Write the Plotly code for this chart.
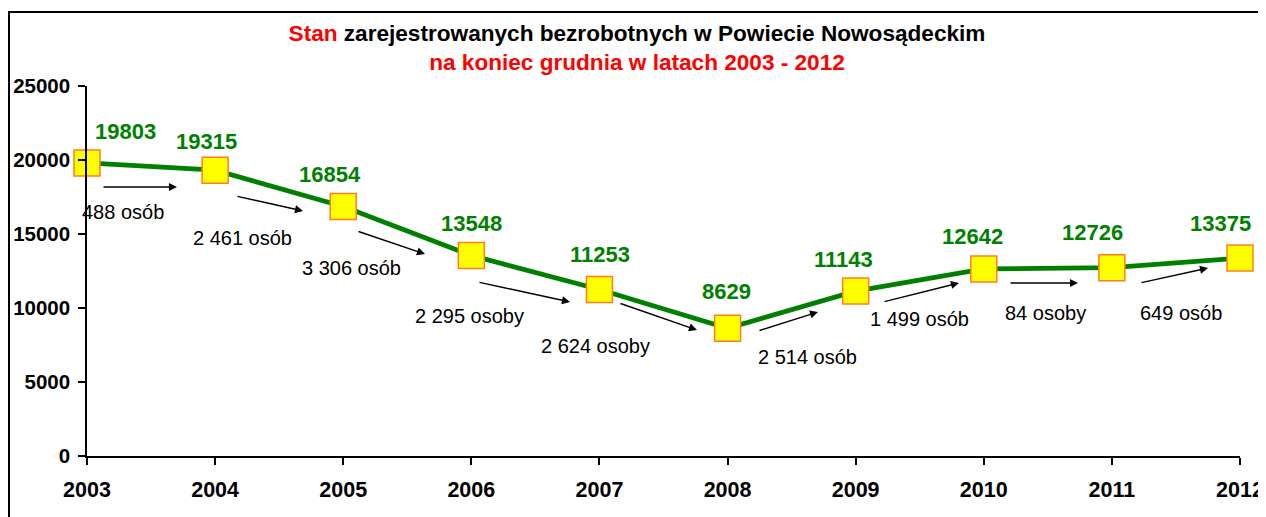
import plotly.graph_objects as go

years = [2003, 2004, 2005, 2006, 2007, 2008, 2009, 2010, 2011, 2012]
unemployed = [19803, 19315, 16854, 13548, 11253, 8629, 11143, 12642, 12726, 13375]
change_labels = ["488 osób", "2 461 osób", "3 306 osób", "2 295 osoby", "2 624 osoby",
                 "2 514 osób", "1 499 osób", "84 osoby", "649 osób"]
y_ticks = [0, 5000, 10000, 15000, 20000, 25000]

# page body has an 8px margin: figure is drawn from (8, 8) of the window
OFF = 8
W, H = 1266 - OFF, 517 - OFF
X0, X1, Y0, Y1 = 87, 1240, 86, 456          # plot area in window pixels
ML, MT = X0 - OFF, Y0 - OFF
PW, PH = X1 - X0, Y1 - Y0
MR, MB = W - ML - PW, H - MT - PH
YMAX = 25000


def px2x(px):
    return years[0] + (px - X0) / PW * (years[-1] - years[0])


def py2y(py):
    return (Y1 - py) / PH * YMAX


fig = go.Figure()
fig.add_trace(go.Scatter(
    x=years, y=unemployed, mode="lines+markers",
    line=dict(color="#008000", width=4.8),
    marker=dict(symbol="square", size=26, color="#FFFF00",
                line=dict(color="#FF7F1F", width=1.5)),
    cliponaxis=False, showlegend=False, hoverinfo="x+y",
))

# value label offsets (pixels) relative to each point
label_dx = [38, -9, -13, 0, 1, -1, -12, -11, -19, -20]
label_dy = [31, 29, 32, 32, 35, 37, 32, 32, 35, 35]
annotations = []
for yr, v, dx, dy in zip(years, unemployed, label_dx, label_dy):
    annotations.append(dict(
        x=yr, y=v, xref="x", yref="y", text=f"<b>{v}</b>", showarrow=False,
        xshift=dx, yshift=dy, font=dict(family="Liberation Sans, Arial", size=22, color="#008000"),
    ))

# arrows (tail px, head px) and change labels (center px), window pixels
arrows_px = [((102, 187), (177, 187)), ((236, 196), (303, 211)), ((357, 231), (425, 254)),
             ((478, 282), (570, 302)), ((619, 303), (697, 330)), ((758, 331), (818, 312)),
             ((883, 302), (959, 283)), ((1009, 283), (1078, 283)), ((1140, 283), (1208, 268))]
label_px = [(123, 212), (242, 238), (351, 268), (469, 316), (595, 346),
            (807, 357), (919, 319), (1045, 313), (1181, 313)]
for (t, h), txt, (lx, ly) in zip(arrows_px, change_labels, label_px):
    annotations.append(dict(
        x=px2x(h[0]), y=py2y(h[1]), ax=px2x(t[0]), ay=py2y(t[1]),
        xref="x", yref="y", axref="x", ayref="y", text="", showarrow=True,
        arrowhead=2, arrowsize=1.15, arrowwidth=1.4, arrowcolor="black",
    ))
    annotations.append(dict(
        x=px2x(lx), y=py2y(ly), xref="x", yref="y", text=txt, showarrow=False,
        font=dict(family="Liberation Sans, Arial", size=20, color="black"),
    ))

# outer chart border
fig.add_shape(type="rect", xref="paper", yref="paper",
              x0=(9 - X0) / PW, x1=(1265.6 - X0) / PW,
              y0=(Y1 - 530) / PH, y1=(Y1 - 12) / PH,
              line=dict(color="black", width=2), fillcolor="rgba(0,0,0,0)", layer="below")

fig.update_layout(
    width=W, height=H,
    margin=dict(l=ML, r=MR, t=MT, b=MB, autoexpand=False),
    paper_bgcolor="white", plot_bgcolor="white",
    font=dict(family="Liberation Sans, Arial", color="black"),
    title=dict(
        text="<b><span style='color:#FF0000'>Stan</span> zarejestrowanych bezrobotnych w Powiecie Nowosądeckim"
             "<br><span style='color:#FF0000'>na koniec grudnia w latach 2003 - 2012</span></b>",
        x=(637 - OFF) / W, xref="container", xanchor="center",
        y=1 - 33 / H, yref="container", yanchor="top",
        font=dict(family="Liberation Sans, Arial", size=22.6, color="black"),
    ),
    xaxis=dict(range=[years[0], years[-1]], tickmode="array", tickvals=years,
               ticktext=[f"<b>{y}</b>" for y in years], showgrid=False, zeroline=False,
               showline=True, linecolor="black", linewidth=1.5, ticks="outside",
               ticklen=7, tickcolor="black", tickwidth=1.5, automargin=False,
               tickfont=dict(size=21.5, color="black"), ticklabelstandoff=6, fixedrange=True),
    yaxis=dict(range=[0, YMAX], tickmode="array", tickvals=y_ticks,
               ticktext=[f"<b>{v}</b>" for v in y_ticks], showgrid=False, zeroline=False,
               showline=True, linecolor="black", linewidth=1.5, ticks="outside",
               ticklen=7, tickcolor="black", tickwidth=1.5, automargin=False,
               tickfont=dict(size=20.5, color="black"), ticklabelstandoff=4, fixedrange=True),
    annotations=annotations,
)

fig.write_html("out.html")
